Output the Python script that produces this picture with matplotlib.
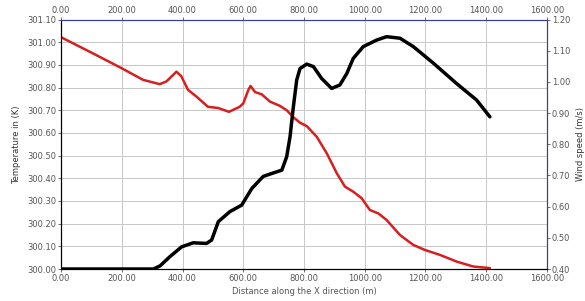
import matplotlib
matplotlib.use("Agg")
import matplotlib.pyplot as plt
from matplotlib.ticker import FormatStrFormatter

# Temperature (red, left axis)
temp_x = [0, 106, 200, 270, 325, 347, 380, 396, 418, 446, 484, 517, 553, 588, 600,
          617, 624, 639, 661, 688, 721, 743, 765, 787, 809, 842, 875, 908, 935, 962,
          990, 1017, 1045, 1072, 1116, 1160, 1198, 1248, 1302, 1357, 1412]
temp_y = [301.022, 300.95, 300.885, 300.834, 300.815, 300.827, 300.87, 300.85, 300.79,
          300.76, 300.715, 300.71, 300.693, 300.715, 300.73, 300.79, 300.807, 300.78,
          300.77, 300.738, 300.719, 300.70, 300.669, 300.645, 300.63, 300.583, 300.51,
          300.422, 300.363, 300.341, 300.312, 300.26, 300.245, 300.216, 300.15, 300.106,
          300.084, 300.062, 300.033, 300.011, 300.004]

# Wind speed (black, right axis)
wind_x = [0, 304, 326, 359, 397, 435, 479, 496, 518, 556, 595, 628, 666, 699, 727,
          743, 754, 765, 776, 787, 809, 831, 858, 891, 918, 941, 962, 995, 1039, 1072,
          1116, 1160, 1226, 1302, 1368, 1412]
wind_y = [0.40, 0.40, 0.41, 0.44, 0.471, 0.484, 0.482, 0.493, 0.552, 0.584, 0.605,
          0.658, 0.697, 0.708, 0.717, 0.76, 0.824, 0.92, 1.006, 1.043, 1.057, 1.049,
          1.011, 0.979, 0.99, 1.027, 1.075, 1.113, 1.134, 1.145, 1.14, 1.113, 1.06,
          0.995, 0.942, 0.888]

x_ticks = [0, 200, 400, 600, 800, 1000, 1200, 1400, 1600]

blue = "#3c3c9c"
grey = "#555555"

fig = plt.figure(figsize=(5.85, 3.01), dpi=100)
ax = fig.add_axes([0.1043, 0.1063, 0.8307, 0.8289])
ax.plot(temp_x, temp_y, color="#d81e1e", lw=1.8, solid_capstyle="round",
        solid_joinstyle="round")
ax.set_xlim(0, 1600)
ax.set_ylim(300.0, 301.1)
ax.set_xticks(x_ticks)
ax.set_yticks([300.0 + 0.1 * i for i in range(12)])
ax.xaxis.set_major_formatter(FormatStrFormatter("%.2f"))
ax.yaxis.set_major_formatter(FormatStrFormatter("%.2f"))
ax.grid(True, color="#c8c8c8", lw=0.7)
ax.tick_params(labelsize=6, colors=grey, length=2, width=0.6, pad=1.5,
               top=True, labeltop=True)
ax.set_xlabel("Distance along the X direction (m)", fontsize=6, color=grey, labelpad=3)
ax.set_ylabel("Temperature in (K)", fontsize=6, color="#333333", labelpad=4)
ax.spines["top"].set_color(blue)
ax.spines["right"].set_color(blue)
for s in ax.spines.values():
    s.set_linewidth(0.8)

ax2 = ax.twinx()
ax2.plot(wind_x, wind_y, color="black", lw=2.5, solid_capstyle="round",
         solid_joinstyle="round")
ax2.set_ylim(0.4, 1.2)
ax2.set_yticks([0.4 + 0.1 * i for i in range(9)])
ax2.yaxis.set_major_formatter(FormatStrFormatter("%.2f"))
ax2.tick_params(labelsize=6, colors=grey, length=2, width=0.6, pad=1.5)
ax2.spines["right"].set_color(blue)
ax2.spines["top"].set_color(blue)
ax2.set_ylabel("Wind speed (m/s)", fontsize=6, color="#333333", rotation=90, labelpad=4)

fig.savefig("out.png", dpi=100)
